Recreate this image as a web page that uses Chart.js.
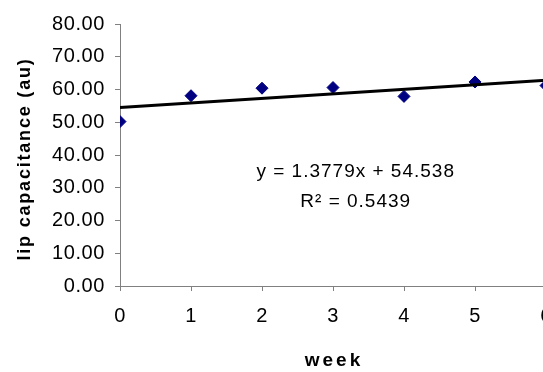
<!DOCTYPE html>
<html>
<head>
<meta charset="utf-8">
<script src="https://cdn.jsdelivr.net/npm/chart.js@4.4.1/dist/chart.umd.min.js"></script>
<style>
  html, body { margin: 0; padding: 0; background: #fff; overflow: hidden; }
  #wrap { width: 560px; height: 372px; }
</style>
</head>
<body>
<div id="wrap"><canvas id="lipChart"></canvas></div>
<script>
// weekly lip capacitance readings
const weeks = [0, 1, 2, 3, 4, 5, 6];
const capacitance = [50.2, 58.1, 60.4, 60.6, 57.9, 62.3, 61.2];
const yTicks = [0, 10, 20, 30, 40, 50, 60, 70, 80];

// linear trend line fitted in the spreadsheet
const trendSlope = 1.3779;
const trendIntercept = 54.538;
const trendR2 = 0.5439;

const FONT = '"Liberation Sans", Arial, sans-serif';
const AXIS_GREY = '#808080';

let points = weeks.map((w, i) => ({ x: w, y: capacitance[i] }));
let trend = [weeks[0], weeks[weeks.length - 1]].map(w => ({ x: w, y: trendIntercept + trendSlope * w }));

// titles and equation are drawn by hand so each can get its own letter spacing
const textPlugin = {
	id: 'lipText',
	beforeUpdate(chart) { chart.ctx.letterSpacing = '0.6px'; },
	beforeDraw(chart) { chart.ctx.letterSpacing = '0.6px'; },
	afterDraw(chart) {
		const ctx = chart.ctx;
		const area = chart.chartArea;
		const xs = chart.scales.x;
		const ys = chart.scales.y;
		ctx.save();
		ctx.fillStyle = '#000';

		ctx.font = 'bold 19px ' + FONT;
		ctx.letterSpacing = '3px';
		ctx.textAlign = 'center';
		ctx.textBaseline = 'alphabetic';
		ctx.fillText('week', (area.left + area.right) / 2 + 1, 366);

		ctx.save();
		ctx.font = 'bold 18px ' + FONT;
		ctx.letterSpacing = '1.8px';
		ctx.translate(30, 159);
		ctx.rotate(-Math.PI / 2);
		ctx.fillText('lip capacitance (au)', 0, 0);
		ctx.restore();

		ctx.font = '19px ' + FONT;
		ctx.letterSpacing = '1px';
		let cx = xs.getPixelForValue(3.32);
		let by = ys.getPixelForValue(33.2);
		ctx.fillText('y = ' + trendSlope + 'x + ' + trendIntercept, cx, by);
		ctx.fillText('R\u00b2 = ' + trendR2, cx, by + 30);
		ctx.restore();
	}
};

new Chart('lipChart', {
	type: 'scatter',
	data: {
		datasets: [
			{
				type: 'line',
				data: trend,
				borderColor: '#000',
				borderWidth: 3,
				pointRadius: 0,
				fill: false
			},
			{
				data: points,
				backgroundColor: '#000080',
				borderColor: '#000080',
				pointStyle: 'rectRot',
				pointRadius: 6,
				pointHoverRadius: 6
			}
		]
	},
	options: {
		responsive: true,
		maintainAspectRatio: false,
		animation: false,
		events: [],
		layout: { padding: { left: 0, right: 14, top: 24, bottom: 0 } },
		plugins: { legend: { display: false }, tooltip: { enabled: false } },
		scales: {
			x: {
				type: 'linear',
				min: 0,
				max: 6,
				afterBuildTicks: s => { s.ticks = weeks.map(v => ({ value: v })); },
				afterFit: s => { s.height = 86; s.paddingLeft = 0; s.paddingRight = 0; },
				ticks: { color: '#000', font: { family: FONT, size: 20 }, padding: 13, maxRotation: 0 },
				grid: { drawOnChartArea: false, drawTicks: true, tickLength: 5, color: AXIS_GREY },
				border: { color: AXIS_GREY, width: 1 }
			},
			y: {
				min: 0,
				max: 80,
				afterBuildTicks: s => { s.ticks = yTicks.map(v => ({ value: v })); },
				afterFit: s => { s.width = 120; s.paddingTop = 0; s.paddingBottom = 0; },
				ticks: {
					color: '#000',
					font: { family: FONT, size: 20 },
					padding: 10,
					callback: v => v.toFixed(2)
				},
				grid: { drawOnChartArea: false, drawTicks: true, tickLength: 5, color: AXIS_GREY },
				border: { color: AXIS_GREY, width: 1 }
			}
		}
	},
	plugins: [textPlugin]
});
</script>
</body>
</html>
